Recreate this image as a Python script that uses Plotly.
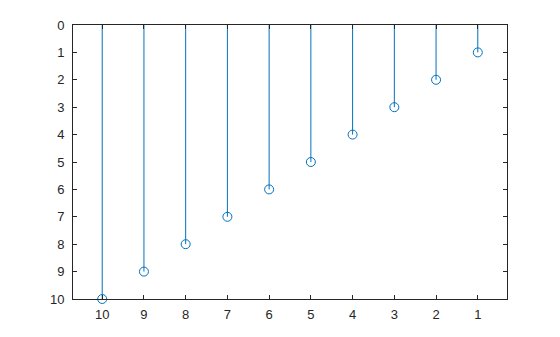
import plotly.graph_objects as go

x_vals = [1, 2, 3, 4, 5, 6, 7, 8, 9, 10]
y_vals = [1, 2, 3, 4, 5, 6, 7, 8, 9, 10]
x_ticks = [10, 9, 8, 7, 6, 5, 4, 3, 2, 1]
y_ticks = [0, 1, 2, 3, 4, 5, 6, 7, 8, 9, 10]

stem_x, stem_y = [], []
for xv, yv in zip(x_vals, y_vals):
    stem_x += [xv, xv, None]
    stem_y += [0, yv, None]

fig = go.Figure()
fig.add_trace(go.Scatter(x=stem_x, y=stem_y, mode="lines",
                         line=dict(color="#0072BD", width=1), hoverinfo="skip",
                         showlegend=False))
fig.add_trace(go.Scatter(x=x_vals, y=y_vals, mode="markers", cliponaxis=False,
                         marker=dict(symbol="circle-open", size=9,
                                     color="#0072BD", line=dict(width=1, color="#0072BD")),
                         showlegend=False))

axis_common = dict(showgrid=False, zeroline=False, showline=True, linecolor="#262626",
                   linewidth=1, mirror="allticks", ticks="inside", ticklen=4,
                   tickcolor="#262626", tickwidth=1,
                   tickfont=dict(family="Liberation Sans, Arial, sans-serif", size=13, color="#262626"))

fig.update_layout(
    width=560, height=337,
    margin=dict(l=73, r=53, t=25, b=38),
    paper_bgcolor="white", plot_bgcolor="white",
    xaxis=dict(range=[10.7, 0.3], tickvals=x_ticks, ticktext=[str(t) for t in x_ticks],
               ticklabelstandoff=3, **axis_common),
    yaxis=dict(range=[10, 0], tickvals=y_ticks, ticktext=[str(t) for t in y_ticks],
               ticklabelstandoff=5, **axis_common),
)
fig.write_html("out.html")
